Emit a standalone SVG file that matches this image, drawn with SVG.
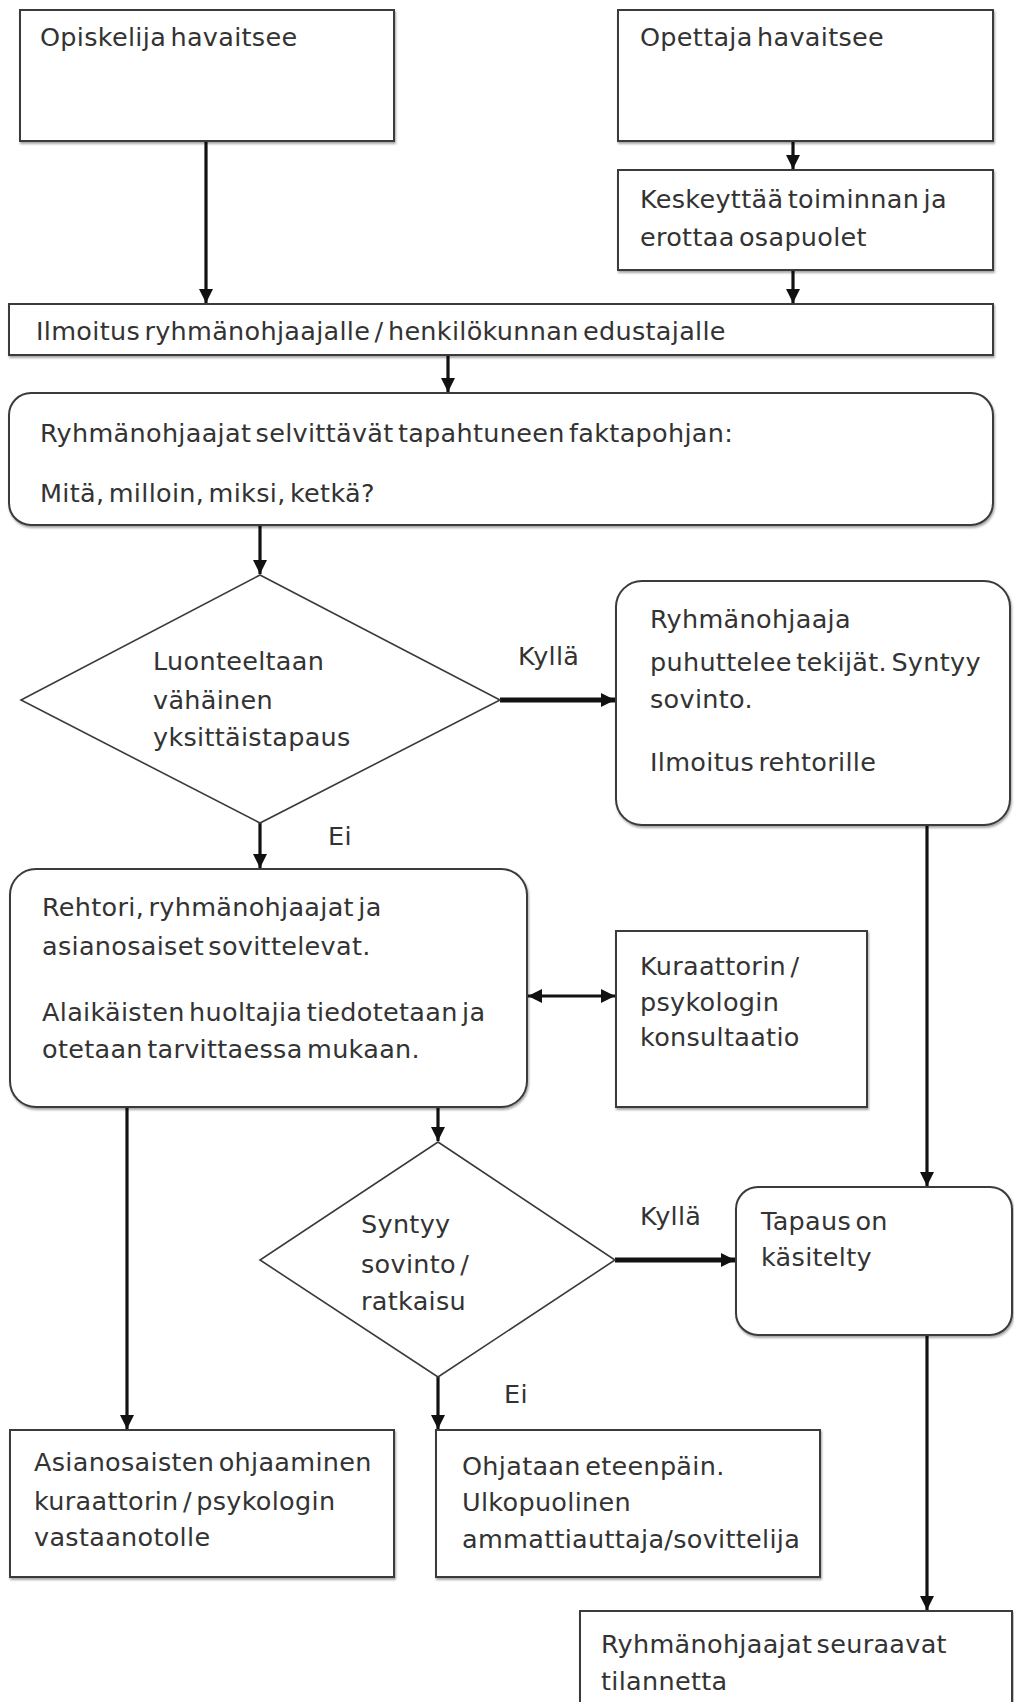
<svg xmlns="http://www.w3.org/2000/svg" width="1014" height="1702" viewBox="0 0 1014 1702">
  <style>
    .box { fill: #ffffff; stroke: #3a3a3a; stroke-width: 2; filter: url(#sh); }
    .dia { fill: #ffffff; stroke: #3a3a3a; stroke-width: 1.6; }
    .t { font-family: "DejaVu Sans", "Liberation Sans", sans-serif; font-size: 25.5px; fill: #333333; word-spacing: -4px; letter-spacing: 0.3px; }
    .c { fill: none; stroke: #111111; stroke-width: 3.2; }
    .ct { fill: none; stroke: #111111; stroke-width: 5; }
  </style>
  <defs>
    <filter id="sh" x="-5%" y="-5%" width="110%" height="115%">
      <feDropShadow dx="1" dy="2" stdDeviation="1.2" flood-color="#000000" flood-opacity="0.35"/>
    </filter>
    <marker id="ah" markerUnits="userSpaceOnUse" markerWidth="16" markerHeight="14" refX="14" refY="7" orient="auto">
      <path d="M0,0 L14,7 L0,14 Z" fill="#111111"/>
    </marker>
    <marker id="ahs" markerUnits="userSpaceOnUse" markerWidth="16" markerHeight="14" refX="14" refY="7" orient="auto-start-reverse">
      <path d="M0,0 L14,7 L0,14 Z" fill="#111111"/>
    </marker>
  </defs>
  <rect width="1014" height="1702" fill="#ffffff"/>

  <g id="connectors">
    <line class="c" x1="206" y1="142" x2="206" y2="303" marker-end="url(#ah)"/>
    <line class="c" x1="793" y1="142" x2="793" y2="169" marker-end="url(#ah)"/>
    <line class="c" x1="793" y1="271" x2="793" y2="303" marker-end="url(#ah)"/>
    <line class="c" x1="448" y1="356" x2="448" y2="392" marker-end="url(#ah)"/>
    <line class="c" x1="260" y1="526" x2="260" y2="574" marker-end="url(#ah)"/>
    <line class="ct" x1="500" y1="700" x2="615" y2="700" marker-end="url(#ah)"/>
    <line class="c" x1="260" y1="823" x2="260" y2="868" marker-end="url(#ah)"/>
    <line class="c" x1="528" y1="996" x2="615" y2="996" marker-start="url(#ahs)" marker-end="url(#ah)"/>
    <line class="c" x1="438" y1="1108" x2="438" y2="1141" marker-end="url(#ah)"/>
    <line class="c" x1="127" y1="1108" x2="127" y2="1429" marker-end="url(#ah)"/>
    <line class="c" x1="927" y1="826" x2="927" y2="1186" marker-end="url(#ah)"/>
    <line class="ct" x1="615" y1="1260" x2="735" y2="1260" marker-end="url(#ah)"/>
    <line class="c" x1="438" y1="1377" x2="438" y2="1429" marker-end="url(#ah)"/>
    <line class="c" x1="927" y1="1336" x2="927" y2="1610" marker-end="url(#ah)"/>
  </g>

  <g id="n-opiskelija">
    <rect class="box" x="20" y="10" width="374" height="131"/>
    <text class="t" x="40" y="46">Opiskelija havaitsee</text>
  </g>
  <g id="n-opettaja">
    <rect class="box" x="618" y="10" width="375" height="131"/>
    <text class="t" x="640" y="46">Opettaja havaitsee</text>
  </g>
  <g id="n-keskeyttaa">
    <rect class="box" x="618" y="170" width="375" height="100"/>
    <text class="t" x="640" y="208">Keskeyttää toiminnan ja</text>
    <text class="t" x="640" y="246">erottaa osapuolet</text>
  </g>
  <g id="n-ilmoitus">
    <rect class="box" x="9" y="304" width="984" height="51"/>
    <text class="t" x="36" y="340">Ilmoitus ryhmänohjaajalle / henkilökunnan edustajalle</text>
  </g>
  <g id="n-selvittavat">
    <rect class="box" x="9" y="393" width="984" height="132" rx="22" ry="22"/>
    <text class="t" x="40" y="442">Ryhmänohjaajat selvittävät tapahtuneen faktapohjan:</text>
    <text class="t" x="40" y="502">Mitä, milloin, miksi, ketkä?</text>
  </g>
  <g id="n-vahainen">
    <polygon class="dia" points="260,575 500,700 260,823 21,700"/>
    <text class="t" x="153" y="670">Luonteeltaan</text>
    <text class="t" x="153" y="709">vähäinen</text>
    <text class="t" x="153" y="746">yksittäistapaus</text>
  </g>
  <text class="t" x="518" y="665">Kyllä</text>
  <g id="n-puhuttelee">
    <rect class="box" x="616" y="581" width="394" height="244" rx="26" ry="26"/>
    <text class="t" x="650" y="628">Ryhmänohjaaja</text>
    <text class="t" x="650" y="671">puhuttelee tekijät. Syntyy</text>
    <text class="t" x="650" y="708">sovinto.</text>
    <text class="t" x="650" y="771">Ilmoitus rehtorille</text>
  </g>
  <text class="t" x="328" y="845">Ei</text>
  <g id="n-rehtori">
    <rect class="box" x="10" y="869" width="517" height="238" rx="26" ry="26"/>
    <text class="t" x="42" y="916">Rehtori, ryhmänohjaajat ja</text>
    <text class="t" x="42" y="955">asianosaiset sovittelevat.</text>
    <text class="t" x="42" y="1021">Alaikäisten huoltajia tiedotetaan ja</text>
    <text class="t" x="42" y="1058">otetaan tarvittaessa mukaan.</text>
  </g>
  <g id="n-kuraattori">
    <rect class="box" x="616" y="931" width="251" height="176"/>
    <text class="t" x="640" y="975">Kuraattorin /</text>
    <text class="t" x="640" y="1011">psykologin</text>
    <text class="t" x="640" y="1046">konsultaatio</text>
  </g>
  <g id="n-sovinto">
    <polygon class="dia" points="438,1142 615,1260 438,1377 260,1260"/>
    <text class="t" x="361" y="1233">Syntyy</text>
    <text class="t" x="361" y="1273">sovinto /</text>
    <text class="t" x="361" y="1310">ratkaisu</text>
  </g>
  <text class="t" x="640" y="1225">Kyllä</text>
  <g id="n-tapaus">
    <rect class="box" x="736" y="1187" width="276" height="148" rx="22" ry="22"/>
    <text class="t" x="761" y="1230">Tapaus on</text>
    <text class="t" x="761" y="1266">käsitelty</text>
  </g>
  <text class="t" x="504" y="1403">Ei</text>
  <g id="n-asianosaisten">
    <rect class="box" x="10" y="1430" width="384" height="147"/>
    <text class="t" x="34" y="1471">Asianosaisten ohjaaminen</text>
    <text class="t" x="34" y="1510">kuraattorin / psykologin</text>
    <text class="t" x="34" y="1546">vastaanotolle</text>
  </g>
  <g id="n-ohjataan">
    <rect class="box" x="436" y="1430" width="384" height="147"/>
    <text class="t" x="462" y="1475">Ohjataan eteenpäin.</text>
    <text class="t" x="462" y="1511">Ulkopuolinen</text>
    <text class="t" x="462" y="1548">ammattiauttaja/sovittelija</text>
  </g>
  <g id="n-seuraavat">
    <rect class="box" x="580" y="1611" width="432" height="110"/>
    <text class="t" x="601" y="1653">Ryhmänohjaajat seuraavat</text>
    <text class="t" x="601" y="1690">tilannetta</text>
  </g>
</svg>
